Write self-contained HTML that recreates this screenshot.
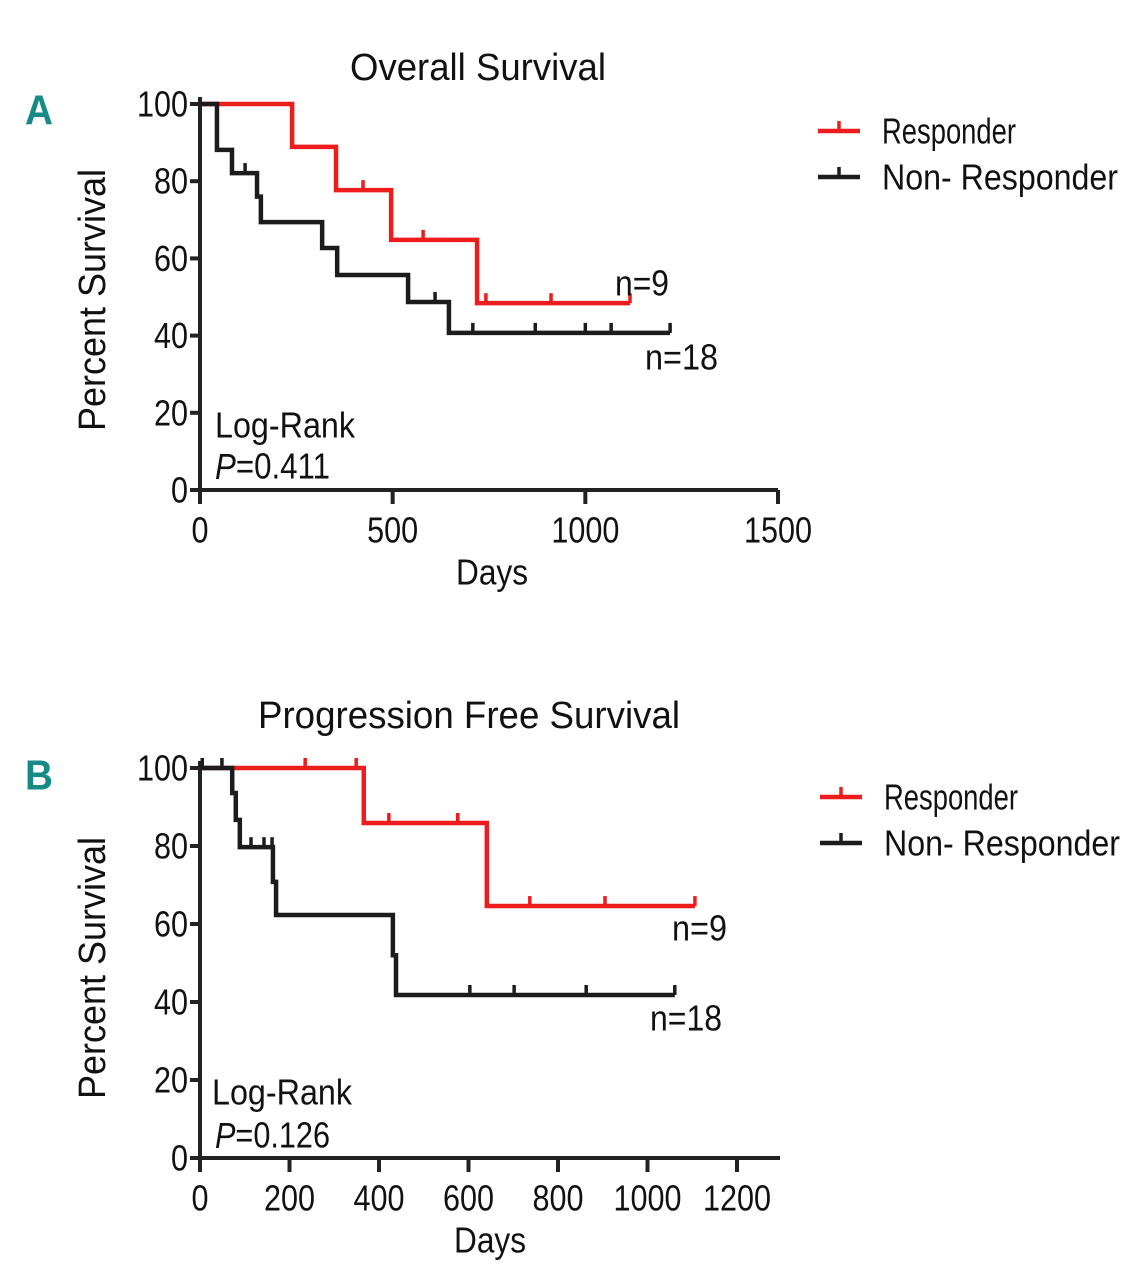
<!DOCTYPE html>
<html><head><meta charset="utf-8">
<style>
html,body{margin:0;padding:0;background:#fff;}
svg{display:block;}
text{font-family:"Liberation Sans Narrow","Liberation Sans",sans-serif;fill:#111;}
</style></head>
<body>
<svg id="fig" width="1143" height="1280" viewBox="0 0 1143 1280" xmlns="http://www.w3.org/2000/svg"></svg>
<script>
// ---- Panel A data (Overall Survival) ----
const osXTicks = [0, 500, 1000, 1500];
const osYTicks = [0, 20, 40, 60, 80, 100];
const osRespEventDays = [0, 239, 353, 496, 719];
const osRespSurv = [100, 88.9, 77.7, 64.8, 48.4];
const osRespCensor = [423, 579, 742, 911];
const osRespEnd = 1116;
const osNonEventDays = [0, 44, 83, 148, 158, 317, 356, 540, 646];
const osNonSurv = [100, 88.1, 82.1, 76, 69.4, 62.7, 55.7, 48.7, 40.7];
const osNonCensor = [117, 610, 708, 870, 1000, 1067];
const osNonEnd = 1220;
// ---- Panel B data (Progression Free Survival) ----
const pfsXTicks = [0, 200, 400, 600, 800, 1000, 1200];
const pfsYTicks = [0, 20, 40, 60, 80, 100];
const pfsRespEventDays = [0, 366, 641];
const pfsRespSurv = [100, 85.9, 64.6];
const pfsRespCensor = [235, 349, 422, 576, 737, 905];
const pfsRespEnd = 1106;
const pfsNonEventDays = [0, 72, 80, 89, 163, 170, 431, 438];
const pfsNonSurv = [100, 93.6, 86.7, 79.7, 70.8, 62.3, 52, 41.8];
const pfsNonCensor = [5, 49, 114, 143, 161, 603, 702, 863];
const pfsNonEnd = 1061;

const NS = "http://www.w3.org/2000/svg";
const svg = document.getElementById('fig');
function mk(tag, attrs, parent){
  const e = document.createElementNS(NS, tag);
  for (const k in attrs) e.setAttribute(k, attrs[k]);
  (parent||svg).appendChild(e);
  return e;
}
function txt(s, x, y, size, anchor, len, parent){
  const t = mk('text', {x:x, y:y, 'font-size':size, 'text-anchor':anchor||'start', 'dominant-baseline':'central'}, parent);
  if (len){ t.setAttribute('textLength', len); t.setAttribute('lengthAdjust','spacingAndGlyphs'); }
  t.textContent = s;
  return t;
}
function survAt(days, surv, d){
  let s = surv[0];
  for (let i=0;i<days.length;i++){ if (days[i] <= d) s = surv[i]; }
  return s;
}

function panel(cfg){
  const g = mk('g', {});
  
  
  const X = d => cfg.x0 + (d - cfg.xMin) * (cfg.x1 - cfg.x0) / (cfg.xMax - cfg.xMin);
  const Y = v => cfg.y0 - v * (cfg.y0 - cfg.y100) / 100;

  const ax = mk('g', {stroke:'#222', 'stroke-width':4, fill:'none'}, g);
  
  
  mk('line', {x1:cfg.x0, y1:cfg.y100-7, x2:cfg.x0, y2:cfg.y0+12}, ax);
  mk('line', {x1:cfg.x0-10, y1:cfg.y0, x2:cfg.xAxisEnd, y2:cfg.y0}, ax);
  cfg.yTicks.forEach(v => {
    mk('line', {x1:cfg.x0-10, y1:Y(v), x2:cfg.x0, y2:Y(v)}, ax);
    const t = txt(String(v), cfg.x0-12, Y(v), 36, 'end', String(v).length*17, g);
    
    
  });
  cfg.xTicks.forEach(v => {
    mk('line', {x1:X(v), y1:cfg.y0, x2:X(v), y2:cfg.y0+14}, ax);
    const t = txt(String(v), X(v), cfg.y0+40, 36, 'middle', String(v).length*17, g);
    
    
  });

  cfg.series.forEach(s => {
    let d = `M${X(0)},${Y(s.surv[0])}`;
    for (let i=1;i<s.days.length;i++){
      d += ` H${X(s.days[i])} V${Y(s.surv[i])}`;
    }
    d += ` H${X(s.end)}`;
    const p = mk('path', {d:d, stroke:s.color, 'stroke-width':4.5, fill:'none'}, g);
    
    
    s.censor.concat([s.end]).forEach(c => {
      const yy = Y(survAt(s.days, s.surv, c));
      const m = mk('line', {x1:X(c), y1:yy, x2:X(c), y2:yy-10, stroke:s.color, 'stroke-width':3.5}, g);
      
      
    });
  });
  return g;
}

panel({name:'panel-a-overall-survival', x0:200, x1:778, xMin:0, xMax:1500, xAxisEnd:778,
  y0:490, y100:104, xTicks:osXTicks, yTicks:osYTicks,
  series:[
    {label:'responder', color:'#ee1c1c', days:osRespEventDays, surv:osRespSurv, censor:osRespCensor, end:osRespEnd},
    {label:'non-responder', color:'#1c1c1c', days:osNonEventDays, surv:osNonSurv, censor:osNonCensor, end:osNonEnd}
  ]});
panel({name:'panel-b-progression-free-survival', x0:200, x1:737, xMin:0, xMax:1200, xAxisEnd:780,
  y0:1158, y100:768, xTicks:pfsXTicks, yTicks:pfsYTicks,
  series:[
    {label:'responder', color:'#ee1c1c', days:pfsRespEventDays, surv:pfsRespSurv, censor:pfsRespCensor, end:pfsRespEnd},
    {label:'non-responder', color:'#1c1c1c', days:pfsNonEventDays, surv:pfsNonSurv, censor:pfsNonCensor, end:pfsNonEnd}
  ]});

function named(el, n){   return el; }

let t;
t = txt('A', 25, 110, 42, 'start', 28); t.setAttribute('font-weight','bold'); t.setAttribute('style','fill:#178a85');
named(t,'panel-a-letter');
named(txt('Overall Survival', 478, 68, 38, 'middle', 256), 'panel-a-title');
named(txt('Days', 492, 572, 36, 'middle', 72), 'panel-a-x-axis-title');
t = txt('Percent Survival', 0, 0, 38, 'middle', 262); t.setAttribute('transform','translate(93,300) rotate(-90)');
named(t,'panel-a-y-axis-title');
named(txt('n=9', 615, 283, 36, 'start', 54), 'panel-a-n-responder');
named(txt('n=18', 645, 357, 36, 'start', 73), 'panel-a-n-nonresponder');
named(txt('Log-Rank', 215, 425, 36, 'start', 140), 'panel-a-logrank-label');
t = txt('', 215, 466, 36, 'start', 115); t.innerHTML = '<tspan font-style="italic">P</tspan>=0.411';
named(t,'panel-a-p-value');

t = txt('B', 25, 775, 42, 'start', 28); t.setAttribute('font-weight','bold'); t.setAttribute('style','fill:#178a85');
named(t,'panel-b-letter');
named(txt('Progression Free Survival', 469, 716, 38, 'middle', 422), 'panel-b-title');
named(txt('Days', 490, 1240, 36, 'middle', 72), 'panel-b-x-axis-title');
t = txt('Percent Survival', 0, 0, 38, 'middle', 262); t.setAttribute('transform','translate(93,968) rotate(-90)');
named(t,'panel-b-y-axis-title');
named(txt('n=9', 672, 928, 36, 'start', 55), 'panel-b-n-responder');
named(txt('n=18', 650, 1018, 36, 'start', 72), 'panel-b-n-nonresponder');
named(txt('Log-Rank', 212, 1092, 36, 'start', 140), 'panel-b-logrank-label');
t = txt('', 215, 1135, 36, 'start', 115); t.innerHTML = '<tspan font-style="italic">P</tspan>=0.126';
named(t,'panel-b-p-value');

function legend(x, y, name){
  const g = mk('g', {});
  
  
  [['Responder','#ee1c1c',0,134],['Non- Responder','#1c1c1c',46,236]].forEach(r => {
    const e = mk('g', {}, g);
    
    
    mk('line', {x1:x, y1:y+r[2], x2:x+42, y2:y+r[2], stroke:r[1], 'stroke-width':4.5}, e);
    mk('line', {x1:x+21, y1:y+r[2], x2:x+21, y2:y+r[2]-10, stroke:r[1], 'stroke-width':3.5}, e);
    txt(r[0], x+64, y+r[2], 36, 'start', r[3], e);
  });
}
legend(818, 131, 'panel-a-legend');
legend(820, 797, 'panel-b-legend');
</script>
</body></html>
